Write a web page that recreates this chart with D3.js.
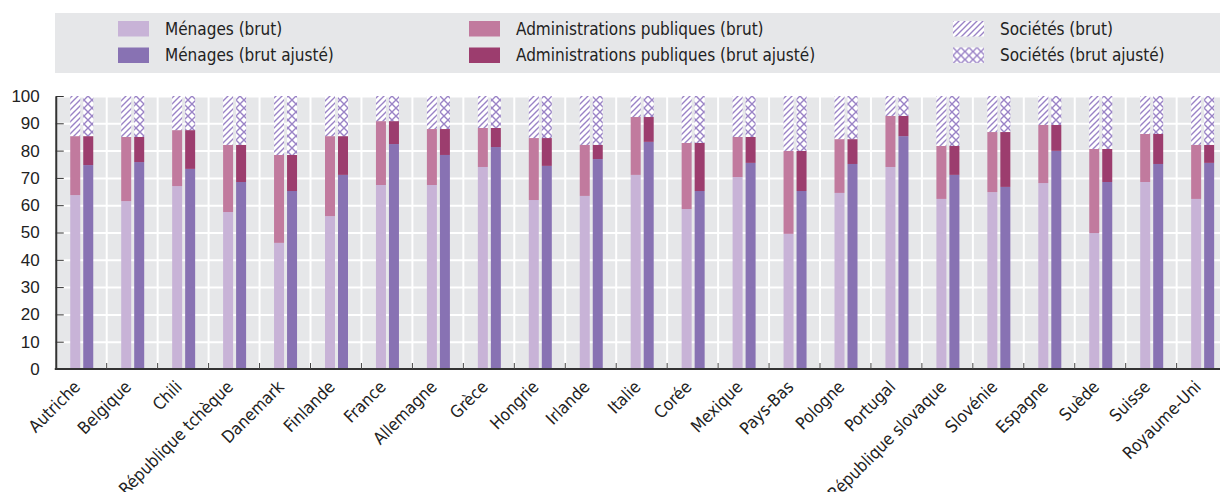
<!DOCTYPE html>
<html>
<head>
<meta charset="utf-8">
<script src="https://cdn.jsdelivr.net/npm/d3@7"></script>
<style>
  body { margin: 0; background: #fff; }
  svg { display: block; font-family: "Liberation Sans Narrow", "Arial Narrow", "DejaVu Sans Condensed", sans-serif; }
  .grid line { stroke: #fff; stroke-width: 2; }
  .axis text { fill: #222; font-size: 17px; }
</style>
</head>
<body>
<div id="chart"></div>
<script>
// pays
var countries = ["Autriche", "Belgique", "Chili", "République tchèque", "Danemark", "Finlande", "France",
  "Allemagne", "Grèce", "Hongrie", "Irlande", "Italie", "Corée", "Mexique", "Pays-Bas", "Pologne",
  "Portugal", "République slovaque", "Slovénie", "Espagne", "Suède", "Suisse", "Royaume-Uni"];

// parts en % (brut)
var menagesBrut = [63.7, 61.5, 67.0, 57.5, 46.2, 56.0, 67.4, 67.4, 74.0, 61.9, 63.4, 71.1, 58.6, 70.3, 49.5, 64.5, 74.0, 62.3, 64.8, 68.1, 49.8, 68.5, 62.3];
var adminBrut = [21.6, 23.5, 20.5, 24.6, 32.2, 29.3, 23.4, 20.5, 14.3, 22.7, 18.7, 21.2, 24.2, 14.7, 30.4, 19.7, 18.7, 19.4, 22.0, 21.3, 30.8, 17.6, 19.8];
var societesBrut = [14.7, 15.0, 12.5, 17.9, 21.6, 14.7, 9.2, 12.1, 11.7, 15.4, 17.9, 7.7, 17.2, 15.0, 20.1, 15.8, 7.3, 18.3, 13.2, 10.6, 19.4, 13.9, 17.9];

// parts en % (brut ajusté)
var menagesAjuste = [74.7, 75.8, 73.3, 68.5, 65.2, 71.1, 82.4, 78.4, 81.3, 74.4, 76.9, 83.2, 65.2, 75.5, 65.2, 75.1, 85.3, 71.1, 66.7, 79.9, 68.5, 75.1, 75.5];
var adminAjuste = [10.6, 9.2, 14.2, 13.6, 13.2, 14.2, 8.4, 9.5, 7.0, 10.2, 5.2, 9.1, 17.6, 9.5, 14.7, 9.1, 7.4, 10.6, 20.1, 9.5, 12.1, 11.0, 6.6];
var societesAjuste = [14.7, 15.0, 12.5, 17.9, 21.6, 14.7, 9.2, 12.1, 11.7, 15.4, 17.9, 7.7, 17.2, 15.0, 20.1, 15.8, 7.3, 18.3, 13.2, 10.6, 19.4, 13.9, 17.9];

var yTicks = [0, 10, 20, 30, 40, 50, 60, 70, 80, 90, 100];

var width = 1220;
var height = 492;
var plotLeft = 55.75, plotRight = 1227.6, plotTop = 96, plotBottom = 369;

var svg = d3.select("#chart").append("svg")
    .attr("width", width)
    .attr("height", height);

/* patterns for sociétés */
var defs = svg.append("defs");
var hatch = defs.append("pattern")
    .attr("id", "hatch")
    .attr("patternUnits", "userSpaceOnUse")
    .attr("width", 6).attr("height", 6);
hatch.append("rect").attr("width", 6).attr("height", 6).attr("fill", "#fff");
hatch.append("path")
    .attr("d", "M-1,1 l2,-2 M0,6 l6,-6 M5,7 l2,-2")
    .attr("stroke", "#9a83c6").attr("stroke-width", 1.4);

var cross = defs.append("pattern")
    .attr("id", "cross")
    .attr("patternUnits", "userSpaceOnUse")
    .attr("width", 8).attr("height", 8);
cross.append("rect").attr("width", 8).attr("height", 8).attr("fill", "#fff");
cross.append("path")
    .attr("d", "M0,0 L8,8 M8,0 L0,8")
    .attr("stroke", "#9a83c6").attr("stroke-width", 1.4);

/* legend */
svg.append("rect")
    .attr("x", 55).attr("y", 13)
    .attr("width", width - 55).attr("height", 60)
    .attr("fill", "#e6e7e9");

var legendItems = [
  { name: "Ménages (brut)", fill: "#c8b3d7", x: 118, y: 21 },
  { name: "Ménages (brut ajusté)", fill: "#8872b3", x: 118, y: 47.5 },
  { name: "Administrations publiques (brut)", fill: "#c17a9e", x: 469, y: 21 },
  { name: "Administrations publiques (brut ajusté)", fill: "#9c3d6e", x: 469, y: 47.5 },
  { name: "Sociétés (brut)", fill: "url(#hatch)", x: 953, y: 21 },
  { name: "Sociétés (brut ajusté)", fill: "url(#cross)", x: 953, y: 47.5 }
];
var legend = svg.append("g").selectAll("g")
    .data(legendItems).enter()
    .append("g")
    .attr("transform", d => "translate(" + d.x + "," + d.y + ")");
legend.append("rect")
    .attr("width", 31).attr("height", 15.5)
    .attr("fill", d => d.fill);
legend.append("text")
    .attr("x", 47).attr("y", 8)
    .attr("dy", "0.35em")
    .attr("fill", "#222")
    .style("font-size", "17px")
    .text(d => d.name);

/* scales */
var x = d3.scaleBand()
    .domain(countries)
    .range([plotLeft, plotRight]);
var y = d3.scaleLinear()
    .domain([0, 100])
    .range([plotBottom, plotTop]);

svg.append("rect")
    .attr("x", plotLeft).attr("y", plotTop)
    .attr("width", plotRight - plotLeft).attr("height", plotBottom - plotTop)
    .attr("fill", "#e6e7e9");

// horizontal grid
svg.append("g")
    .attr("class", "grid")
    .attr("transform", "translate(" + plotLeft + ",0)")
    .call(d3.axisRight(y).tickValues(yTicks.slice(1)).tickSize(plotRight - plotLeft).tickFormat(""))
    .call(g => g.select(".domain").remove());

// vertical grid at category borders
svg.append("g")
    .attr("class", "grid")
    .selectAll("line")
    .data(countries.slice(1)).enter()
    .append("line")
    .attr("x1", d => x(d)).attr("x2", d => x(d))
    .attr("y1", plotTop).attr("y2", plotBottom);

/* bars */
var rows = countries.map(function(c, i) {
  return {
    country: c,
    menagesBrut: menagesBrut[i], adminBrut: adminBrut[i], societesBrut: societesBrut[i],
    menagesAjuste: menagesAjuste[i], adminAjuste: adminAjuste[i], societesAjuste: societesAjuste[i]
  };
});

var bw = 10;
var series = [
  { keys: ["menagesBrut", "adminBrut", "societesBrut"], fills: ["#c8b3d7", "#c17a9e", "url(#hatch)"], offset: 14.5 },
  { keys: ["menagesAjuste", "adminAjuste", "societesAjuste"], fills: ["#8872b3", "#9c3d6e", "url(#cross)"], offset: 27.5 }
];

series.forEach(function(s) {
  var stacked = d3.stack().keys(s.keys)(rows);
  svg.append("g").selectAll("g")
      .data(stacked).enter()
      .append("g")
      .attr("fill", (d, i) => s.fills[i])
      .selectAll("rect")
      .data(d => d).enter()
      .append("rect")
      .attr("x", d => x(d.data.country) + s.offset)
      .attr("y", d => y(d[1]))
      .attr("width", bw)
      .attr("height", d => y(d[0]) - y(d[1]));
});

/* axes */
svg.append("g")
    .attr("class", "axis")
    .attr("transform", "translate(" + plotLeft + ",0)")
    .call(d3.axisLeft(y).tickValues(yTicks).tickSizeInner(-8).tickSizeOuter(0).tickPadding(16))
    .call(g => g.select(".domain").attr("stroke", "#333").attr("stroke-width", 2))
    .call(g => g.selectAll(".tick line").attr("stroke", "#333"));

var xAxis = svg.append("g")
    .attr("class", "axis")
    .attr("transform", "translate(0," + plotBottom + ")");
xAxis.append("line")
    .attr("x1", plotLeft - 1).attr("x2", width)
    .attr("stroke", "#333").attr("stroke-width", 2);
xAxis.selectAll(".tick")
    .data(countries.slice(1)).enter()
    .append("line")
    .attr("x1", d => x(d)).attr("x2", d => x(d))
    .attr("y1", 0).attr("y2", -6)
    .attr("stroke", "#444").attr("stroke-width", 1);
xAxis.selectAll(".lbl")
    .data(countries).enter()
    .append("text")
    .attr("class", "lbl")
    .attr("text-anchor", "end")
    .attr("transform", d => "translate(" + (x(d) + x.bandwidth() / 2) + ",19) rotate(-45)")
    .text(d => d);
</script>
</body>
</html>
